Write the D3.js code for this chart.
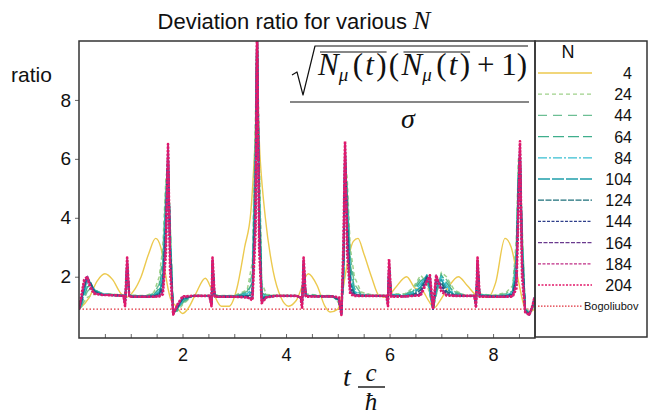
<!DOCTYPE html>
<html>
<head>
<meta charset="utf-8">
<script src="https://cdn.jsdelivr.net/npm/d3@7"></script>
<style>
  body { margin: 0; background: #fff; }
  svg { display: block; }
</style>
</head>
<body>
<svg id="chart" width="652" height="418"></svg>
<script>
// ---- data ----
const nLabels = ["4", "24", "44", "64", "84", "104", "124", "144", "164", "184", "204"];

// N = 4 has its own time grid (smooth bumps)
const tN4 = [0, 0.2, 0.35, 0.5, 0.65, 0.8, 0.92, 1.05, 1.2, 1.35,
  1.48, 1.58, 1.66, 1.72, 1.78, 1.88, 2.0, 2.1, 2.25, 2.44,
  2.58, 2.75, 2.9, 3.05, 3.2, 3.32, 3.40, 3.44, 3.50, 3.6,
  3.75, 3.9, 4.05, 4.2, 4.43, 4.6, 4.75, 4.85, 5.0, 5.1,
  5.2, 5.3, 5.39, 5.5, 5.65, 5.8, 5.95, 6.1, 6.33, 6.5,
  6.62, 6.75, 6.86, 6.98, 7.12, 7.33, 7.5, 7.7, 7.9, 8.05,
  8.23, 8.35, 8.45, 8.52, 8.6, 8.7, 8.8];
const ratioN4 = [0.9, 1.3, 1.85, 2.1, 1.9, 1.45, 1.3, 1.5, 2.0, 2.8,
  3.3, 3.0, 2.2, 1.6, 1.2, 1.0, 0.75, 0.9, 1.4, 1.95,
  1.5, 1.0, 1.0, 1.6, 3.0, 4.2, 6.5, 8.0, 6.0, 4.0,
  2.2, 1.3, 1.0, 1.2, 2.1, 1.7, 1.0, 0.8, 0.9, 1.6,
  2.6, 3.2, 3.3, 2.8, 2.0, 1.35, 1.3, 1.6, 2.0, 1.6,
  1.55, 1.2, 0.95, 1.2, 1.6, 2.0, 1.7, 1.35, 1.3, 1.8,
  3.3, 3.0, 2.2, 1.6, 1.0, 0.8, 0.9];

// shared time grid for N = 24 ... 204
const tMain = [0, 0.05, 0.10, 0.16, 0.22, 0.30, 0.45, 0.70, 0.86, 0.89,
  0.93, 0.97, 1.02, 1.30, 1.45, 1.55, 1.62, 1.68, 1.72, 1.76,
  1.82, 1.90, 2.00, 2.20, 2.52, 2.56, 2.58, 2.62, 2.70, 3.00,
  3.25, 3.35, 3.41, 3.44, 3.48, 3.53, 3.62, 3.80, 4.20, 4.28,
  4.31, 4.34, 4.38, 4.60, 4.90, 5.02, 5.07, 5.11, 5.14, 5.18,
  5.24, 5.32, 5.45, 5.70, 5.94, 5.97, 5.99, 6.03, 6.30, 6.45,
  6.60, 6.72, 6.78, 6.84, 6.90, 7.00, 7.10, 7.25, 7.45, 7.64,
  7.67, 7.70, 7.74, 8.00, 8.25, 8.38, 8.45, 8.49, 8.52, 8.56,
  8.62, 8.70, 8.76, 8.80];

const ratioN24 = [0.9, 0.98, 1.15, 1.3, 1.35, 1.4, 1.43, 1.4, 1.38, 1.22,
  2.2, 1.42, 1.37, 1.36, 1.48, 2.0, 3.0, 5.4, 5.7, 4.0,
  0.82, 0.83, 1.05, 1.36, 1.36, 1.22, 2.2, 1.4, 1.36, 1.36,
  1.55, 2.5, 7.5, 10.5, 6.5, 1.8, 1.4, 1.37, 1.36, 1.3,
  1.18, 2.2, 1.42, 1.37, 1.36, 1.1, 0.82, 1.7, 5.8, 5.4,
  3.0, 2.0, 1.48, 1.37, 1.36, 1.22, 2.15, 1.42, 1.42, 1.62,
  2.05, 1.8, 1.35, 0.9, 1.35, 2.15, 2.0, 1.55, 1.38, 1.36,
  1.18, 2.2, 1.42, 1.37, 1.46, 1.7, 3.3, 6.0, 5.8, 3.8,
  0.95, 0.8, 0.88, 1.12];
const ratioN44 = [0.9, 1.0, 1.25, 1.5, 1.6, 1.55, 1.43, 1.39, 1.37, 1.2,
  2.25, 1.4, 1.36, 1.35, 1.43, 1.75, 2.7, 5.1, 5.8, 3.8,
  0.8, 0.85, 1.1, 1.36, 1.36, 1.2, 2.25, 1.39, 1.35, 1.35,
  1.5, 2.1, 7.0, 10.5, 6.0, 1.6, 1.37, 1.36, 1.36, 1.3,
  1.15, 2.25, 1.4, 1.36, 1.35, 1.12, 0.8, 1.8, 5.9, 5.1,
  2.7, 1.75, 1.43, 1.36, 1.36, 1.2, 2.2, 1.4, 1.4, 1.56,
  1.95, 1.9, 1.4, 0.9, 1.4, 2.1, 1.9, 1.5, 1.37, 1.36,
  1.15, 2.25, 1.4, 1.36, 1.42, 1.6, 3.0, 5.8, 5.9, 3.6,
  0.92, 0.78, 0.9, 1.15];
const ratioN64 = [0.9, 1.05, 1.35, 1.65, 1.7, 1.55, 1.42, 1.38, 1.36, 1.18,
  2.3, 1.39, 1.35, 1.34, 1.4, 1.6, 2.4, 4.8, 5.9, 3.6,
  0.78, 0.87, 1.15, 1.36, 1.36, 1.18, 2.3, 1.38, 1.34, 1.34,
  1.46, 1.8, 6.5, 10.5, 5.5, 1.45, 1.35, 1.36, 1.36, 1.3,
  1.12, 2.3, 1.39, 1.35, 1.34, 1.15, 0.78, 1.9, 6.0, 4.8,
  2.4, 1.6, 1.4, 1.36, 1.36, 1.18, 2.25, 1.39, 1.38, 1.5,
  1.85, 2.0, 1.45, 0.9, 1.45, 2.05, 1.8, 1.45, 1.36, 1.36,
  1.12, 2.3, 1.39, 1.35, 1.38, 1.52, 2.7, 5.6, 6.0, 3.4,
  0.9, 0.76, 0.92, 1.18];
const ratioN84 = [0.9, 1.1, 1.45, 1.8, 1.75, 1.55, 1.41, 1.38, 1.36, 1.15,
  2.35, 1.38, 1.34, 1.33, 1.38, 1.5, 2.1, 4.5, 6.0, 3.4,
  0.77, 0.9, 1.2, 1.35, 1.35, 1.15, 2.35, 1.37, 1.33, 1.33,
  1.42, 1.6, 6.0, 10.5, 5.0, 1.35, 1.34, 1.35, 1.35, 1.3,
  1.1, 2.35, 1.38, 1.34, 1.33, 1.18, 0.77, 2.0, 6.1, 4.5,
  2.1, 1.5, 1.38, 1.35, 1.35, 1.15, 2.3, 1.38, 1.36, 1.46,
  1.75, 2.05, 1.5, 0.9, 1.5, 2.0, 1.7, 1.4, 1.35, 1.35,
  1.1, 2.35, 1.38, 1.34, 1.36, 1.47, 2.4, 5.4, 6.1, 3.2,
  0.9, 0.75, 0.95, 1.2];
const ratioN104 = [0.9, 1.15, 1.55, 1.9, 1.8, 1.52, 1.4, 1.37, 1.35, 1.12,
  2.4, 1.37, 1.33, 1.33, 1.36, 1.45, 1.9, 4.2, 6.1, 3.2,
  0.76, 0.92, 1.22, 1.35, 1.35, 1.12, 2.4, 1.36, 1.33, 1.33,
  1.38, 1.5, 5.5, 10.5, 4.6, 1.3, 1.33, 1.35, 1.35, 1.3,
  1.08, 2.4, 1.37, 1.33, 1.33, 1.2, 0.76, 2.2, 6.2, 4.2,
  1.9, 1.45, 1.36, 1.35, 1.35, 1.12, 2.35, 1.37, 1.35, 1.42,
  1.65, 2.05, 1.6, 0.9, 1.6, 1.9, 1.6, 1.38, 1.35, 1.35,
  1.08, 2.4, 1.37, 1.33, 1.35, 1.43, 2.2, 5.2, 6.2, 3.0,
  0.88, 0.74, 0.96, 1.22];
const ratioN124 = [0.9, 1.2, 1.65, 1.95, 1.8, 1.5, 1.39, 1.37, 1.35, 1.1,
  2.45, 1.36, 1.33, 1.32, 1.34, 1.4, 1.75, 3.9, 6.2, 3.0,
  0.75, 0.95, 1.25, 1.35, 1.35, 1.1, 2.45, 1.35, 1.32, 1.32,
  1.35, 1.4, 5.0, 10.5, 4.2, 1.25, 1.32, 1.35, 1.35, 1.3,
  1.05, 2.45, 1.36, 1.33, 1.33, 1.22, 0.75, 2.4, 6.3, 3.9,
  1.75, 1.4, 1.35, 1.35, 1.35, 1.1, 2.4, 1.36, 1.34, 1.38,
  1.55, 2.0, 1.75, 0.9, 1.75, 1.8, 1.5, 1.37, 1.35, 1.35,
  1.05, 2.45, 1.36, 1.33, 1.34, 1.4, 2.0, 5.0, 6.3, 2.8,
  0.86, 0.72, 0.98, 1.25];
const ratioN144 = [0.9, 1.25, 1.75, 2.0, 1.75, 1.47, 1.38, 1.37, 1.35, 1.08,
  2.5, 1.35, 1.32, 1.32, 1.33, 1.37, 1.6, 3.6, 6.3, 2.8,
  0.74, 0.98, 1.28, 1.35, 1.35, 1.08, 2.5, 1.34, 1.32, 1.32,
  1.32, 1.3, 4.4, 10.5, 3.8, 1.2, 1.3, 1.35, 1.35, 1.3,
  1.02, 2.5, 1.35, 1.33, 1.33, 1.25, 0.74, 2.6, 6.4, 3.6,
  1.6, 1.38, 1.35, 1.35, 1.35, 1.08, 2.45, 1.35, 1.33, 1.36,
  1.45, 1.95, 1.9, 0.9, 1.9, 1.7, 1.42, 1.36, 1.35, 1.35,
  1.02, 2.5, 1.35, 1.32, 1.33, 1.37, 1.9, 4.8, 6.4, 2.6,
  0.84, 0.72, 1.0, 1.28];
const ratioN164 = [0.9, 1.3, 1.8, 2.0, 1.7, 1.45, 1.38, 1.37, 1.35, 1.05,
  2.55, 1.34, 1.32, 1.32, 1.32, 1.35, 1.5, 3.3, 6.4, 2.6,
  0.73, 1.0, 1.3, 1.35, 1.35, 1.05, 2.55, 1.33, 1.32, 1.32,
  1.3, 1.25, 4.0, 10.5, 3.5, 1.15, 1.3, 1.35, 1.35, 1.3,
  1.0, 2.55, 1.34, 1.33, 1.33, 1.28, 0.73, 2.8, 6.5, 3.3,
  1.5, 1.37, 1.35, 1.35, 1.35, 1.05, 2.5, 1.34, 1.33, 1.35,
  1.4, 1.9, 2.0, 0.9, 2.0, 1.6, 1.4, 1.35, 1.35, 1.35,
  1.0, 2.55, 1.34, 1.32, 1.32, 1.35, 1.8, 4.6, 6.5, 2.4,
  0.82, 0.7, 1.0, 1.3];
const ratioN184 = [0.9, 1.35, 1.85, 2.0, 1.65, 1.43, 1.38, 1.37, 1.35, 1.02,
  2.6, 1.33, 1.32, 1.32, 1.32, 1.34, 1.45, 3.0, 6.45, 2.4,
  0.72, 1.05, 1.32, 1.35, 1.35, 1.02, 2.6, 1.32, 1.32, 1.32,
  1.3, 1.22, 3.7, 10.5, 3.2, 1.12, 1.3, 1.35, 1.35, 1.3,
  0.97, 2.6, 1.33, 1.33, 1.33, 1.3, 0.72, 3.0, 6.55, 3.0,
  1.45, 1.36, 1.35, 1.35, 1.35, 1.02, 2.55, 1.33, 1.33, 1.35,
  1.38, 1.85, 2.05, 0.9, 2.05, 1.55, 1.38, 1.35, 1.35, 1.35,
  0.97, 2.6, 1.33, 1.32, 1.32, 1.34, 1.7, 4.4, 6.55, 2.2,
  0.8, 0.7, 1.0, 1.3];
const ratioN204 = [0.9, 1.4, 1.9, 2.0, 1.6, 1.42, 1.38, 1.37, 1.35, 1.0,
  2.65, 1.32, 1.32, 1.32, 1.32, 1.33, 1.4, 2.8, 6.5, 2.2,
  0.72, 1.05, 1.33, 1.35, 1.35, 1.0, 2.65, 1.32, 1.32, 1.32,
  1.3, 1.2, 3.5, 10.5, 3.0, 1.1, 1.3, 1.35, 1.35, 1.3,
  0.95, 2.65, 1.32, 1.33, 1.33, 1.3, 0.7, 3.2, 6.6, 2.8,
  1.4, 1.35, 1.35, 1.35, 1.35, 1.0, 2.6, 1.32, 1.33, 1.35,
  1.36, 1.8, 2.05, 0.9, 2.05, 1.5, 1.36, 1.35, 1.35, 1.35,
  0.95, 2.65, 1.32, 1.32, 1.32, 1.33, 1.6, 4.2, 6.6, 2.0,
  0.8, 0.7, 1.0, 1.3];

// Bogoliubov reference level
const tBogoliubov = [0, 8.8];
const ratioBogoliubov = [0.9, 0.9];

const xTicks = [0.5, 1, 1.5, 2, 2.5, 3, 3.5, 4, 4.5, 5, 5.5, 6, 6.5, 7, 7.5, 8, 8.5];
const yTicks = [2, 4, 6, 8];

// ---- styles (not data) ----
const colors = ["#ecc94e", "#9fd18a", "#6dbf94", "#3fae8c", "#39bfd2", "#1f9eaa",
                "#1d6f7a", "#2f3f8a", "#6a3a8e", "#c02e86", "#e2186a"];
const dashes = [null, "4,3", "9,6", "11,4", "9,2,2,2", "12,2", "6,1.5", "3,1.5", "4,1.5", "3,1.5", "2,1.5"];
const widths = [1.4, 1.5, 1.5, 1.6, 1.6, 1.7, 1.8, 1.8, 1.9, 2.0, 2.6];

const series = [
  { t: tN4, v: ratioN4 },
  { t: tMain, v: ratioN24 }, { t: tMain, v: ratioN44 }, { t: tMain, v: ratioN64 },
  { t: tMain, v: ratioN84 }, { t: tMain, v: ratioN104 }, { t: tMain, v: ratioN124 },
  { t: tMain, v: ratioN144 }, { t: tMain, v: ratioN164 }, { t: tMain, v: ratioN184 },
  { t: tMain, v: ratioN204 }
].map((s, i) => ({ label: nLabels[i], pts: s.t.map((t, j) => [t, s.v[j]]) }));

const svg = d3.select("#chart");
const sans = "'Liberation Sans', Arial, Helvetica, sans-serif";
const serif = "'Liberation Serif', 'DejaVu Serif', serif";

const pLeft = 79, pRight = 535, pTop = 41, pBottom = 338;
const x = d3.scaleLinear().domain([0, 8.81]).range([pLeft, pRight]);
const y = d3.scaleLinear().domain([-0.08, 10]).range([pBottom, pTop]);

svg.append("defs").append("clipPath").attr("id", "plotClip")
  .append("rect").attr("x", pLeft).attr("y", pTop).attr("width", pRight - pLeft).attr("height", pBottom - pTop);

// bogoliubov dotted line
const line = d3.line().x(d => x(d[0])).y(d => y(d[1]));
const plot = svg.append("g").attr("clip-path", "url(#plotClip)");
plot.append("path")
  .datum(tBogoliubov.map((t, i) => [t, ratioBogoliubov[i]]))
  .attr("fill", "none").attr("stroke", "#e0303c").attr("stroke-width", 1.2)
  .attr("stroke-dasharray", "1.5,2").attr("d", line);

series.forEach((s, i) => {
  plot.append("path")
    .datum(s.pts)
    .attr("fill", "none")
    .attr("stroke", colors[i])
    .attr("stroke-width", widths[i])
    .attr("stroke-linejoin", "round")
    .attr("stroke-dasharray", dashes[i])
    .attr("d", i === 0 ? line.curve(d3.curveMonotoneX) : line.curve(d3.curveLinear));
});

// axes
const xAxis = svg.append("g").attr("transform", `translate(0,${pBottom})`)
  .call(d3.axisBottom(x).tickValues(xTicks).tickSize(-4).tickPadding(10)
    .tickFormat(d => (d % 2 === 0 ? d : "")));
xAxis.select(".domain").remove();
xAxis.selectAll("line").attr("stroke", "#666");
xAxis.selectAll("text").attr("font-family", sans).attr("font-size", 18).attr("fill", "#111");

const yAxis = svg.append("g").attr("transform", `translate(${pLeft},0)`)
  .call(d3.axisLeft(y).tickValues(yTicks).tickSize(4).tickPadding(4));
yAxis.select(".domain").remove();
yAxis.selectAll("line").attr("stroke", "#666");
yAxis.selectAll("text").attr("font-family", sans).attr("font-size", 19).attr("fill", "#111");

// frames
svg.append("rect").attr("x", pLeft).attr("y", pTop).attr("width", pRight - pLeft).attr("height", pBottom - pTop)
  .attr("fill", "none").attr("stroke", "#333").attr("stroke-width", 1.5);
svg.append("rect").attr("x", pRight).attr("y", pTop).attr("width", 112).attr("height", 296)
  .attr("fill", "none").attr("stroke", "#333").attr("stroke-width", 1.5);

// title
const title = svg.append("text").attr("x", 294).attr("y", 29).attr("text-anchor", "middle")
  .attr("font-family", sans).attr("font-size", 22).attr("fill", "#111");
title.append("tspan").text("Deviation ratio for various ");
title.append("tspan").attr("font-family", serif).attr("font-style", "italic").attr("font-size", 26).text("N");

svg.append("text").attr("x", 11).attr("y", 82).attr("font-family", sans).attr("font-size", 21)
  .attr("fill", "#111").text("ratio");

// x axis label: t c/ħ
const xl = svg.append("g").attr("font-family", serif).attr("font-style", "italic").attr("fill", "#111");
xl.append("text").attr("x", 347).attr("y", 386).attr("text-anchor", "middle").attr("font-size", 28).text("t");
xl.append("text").attr("x", 371).attr("y", 381).attr("text-anchor", "middle").attr("font-size", 25).text("c");
xl.append("line").attr("x1", 358).attr("x2", 385).attr("y1", 387).attr("y2", 387).attr("stroke", "#111").attr("stroke-width", 1.4);
xl.append("text").attr("x", 371).attr("y", 410).attr("text-anchor", "middle").attr("font-size", 25).text("ħ");

// formula inside plot: pieces laid out, then spread to span x = 318..527
const fg = svg.append("g").attr("fill", "#111");
const base = 75;
const fs = 31;
const pieces = [];
let cx = 0;
function piece(txt, italic, size, dy, weight) {
  const el = fg.append("text").attr("y", base + (dy || 0))
    .attr("font-family", serif).attr("font-size", size)
    .attr("font-style", italic ? "italic" : "normal").text(txt);
  const w = el.node().getComputedTextLength();
  pieces.push({ el, x0: cx, w, weight: weight || 0 });
  cx += w;
  return pieces.length - 1;
}
const iN1 = piece("N", true, fs);
piece("μ", true, 19, 6);
piece("(", false, fs, 0, 2);
piece("t", true, fs, 0, 1);
const iC1 = piece(")", false, fs, 0, 1);
piece("(", false, fs, 0, 1);
const iN2 = piece("N", true, fs, 0, 1);
piece("μ", true, 19, 6);
piece("(", false, fs, 0, 2);
piece("t", true, fs, 0, 1);
const iC2 = piece(")", false, fs, 0, 1);
piece("+", false, fs, 0, 3);
piece("1)", false, fs, 0, 3);
const nx0 = 318, nx1 = 527;
const totalWeight = d3.sum(pieces, p => p.weight);
const unit = Math.max(0, (nx1 - nx0 - cx) / totalWeight);
let shift = 0;
pieces.forEach(p => {
  shift += p.weight * unit;
  p.px = nx0 + p.x0 + shift;
  p.el.attr("x", p.px);
});
fg.append("line").attr("x1", pieces[iN1].px + 2).attr("x2", pieces[iC1].px + pieces[iC1].w)
  .attr("y1", 52).attr("y2", 52).attr("stroke", "#111").attr("stroke-width", 1.1);
fg.append("line").attr("x1", pieces[iN2].px + 2).attr("x2", pieces[iC2].px + pieces[iC2].w)
  .attr("y1", 52).attr("y2", 52).attr("stroke", "#111").attr("stroke-width", 1.1);
fg.append("path").attr("d", `M292,75 L297,72 L303,95 L315,46 L${nx1 + 1},46`)
  .attr("fill", "none").attr("stroke", "#111").attr("stroke-width", 1.2).attr("stroke-linejoin", "round");
fg.append("line").attr("x1", 290).attr("x2", nx1 + 2).attr("y1", 102).attr("y2", 102).attr("stroke", "#111").attr("stroke-width", 1.2);
fg.append("text").attr("x", 408).attr("y", 128).attr("text-anchor", "middle")
  .attr("font-family", serif).attr("font-style", "italic").attr("font-size", 28).text("σ");

// legend
const lg = svg.append("g");
lg.append("text").attr("x", 568).attr("y", 58).attr("text-anchor", "middle")
  .attr("font-family", sans).attr("font-size", 18).attr("fill", "#111").text("N");
const rowY = i => 73 + i * 21.2;
nLabels.forEach((lab, i) => {
  lg.append("line").attr("x1", 538).attr("x2", 592).attr("y1", rowY(i)).attr("y2", rowY(i))
    .attr("stroke", colors[i]).attr("stroke-width", 1.3).attr("stroke-dasharray", dashes[i]);
  lg.append("text").attr("x", 632).attr("y", rowY(i) + 6).attr("text-anchor", "end")
    .attr("font-family", sans).attr("font-size", 16).attr("fill", "#111").text(lab);
});
const bi = nLabels.length;
lg.append("line").attr("x1", 538).attr("x2", 582).attr("y1", rowY(bi)).attr("y2", rowY(bi))
  .attr("stroke", "#e0303c").attr("stroke-width", 1.2).attr("stroke-dasharray", "1.5,1.5");
lg.append("text").attr("x", 584).attr("y", rowY(bi) + 4).attr("font-family", sans).attr("font-size", 11)
  .attr("fill", "#111").text("Bogoliubov");
</script>
</body>
</html>
